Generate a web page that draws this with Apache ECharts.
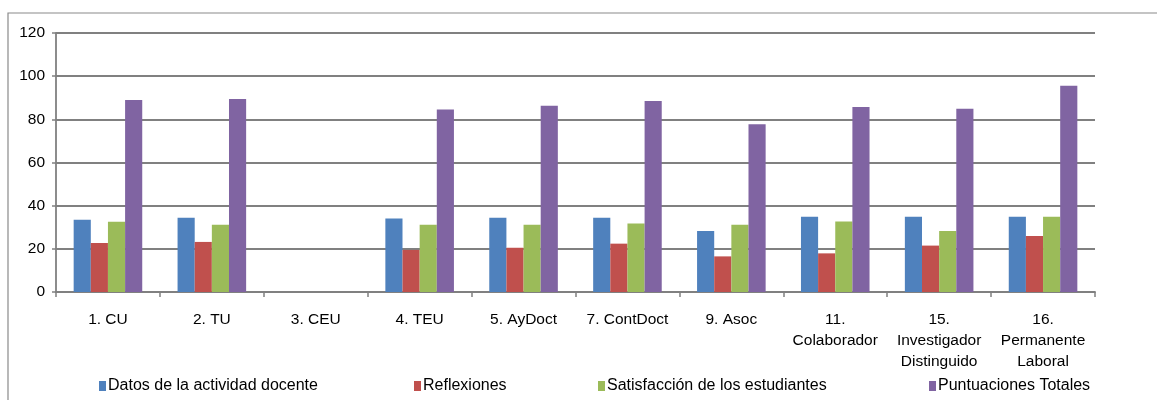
<!DOCTYPE html>
<html><head><meta charset="utf-8">
<script src="https://cdn.jsdelivr.net/npm/echarts@6/dist/echarts.min.js"></script>
<style>html,body{margin:0;padding:0;background:#fff}#c{width:1157px;height:400px}</style>
</head><body><div id="c"></div>
<script>
const categories = ["1. CU","2. TU","3. CEU","4. TEU","5. AyDoct","7. ContDoct","9. Asoc","11.\nColaborador","15.\nInvestigador\nDistinguido","16.\nPermanente\nLaboral"];
const seriesNames = ["Datos de la actividad docente","Reflexiones","Satisfacción de los estudiantes","Puntuaciones Totales"];
const datos = [33.5,34.4,0,34.0,34.4,34.4,28.3,34.9,34.9,34.9];
const reflexiones = [22.7,23.2,0,19.5,20.5,22.4,16.5,17.9,21.5,25.9];
const satisfaccion = [32.6,31.2,0,31.2,31.2,31.7,31.2,32.7,28.3,34.9];
const totales = [89.0,89.4,0,84.5,86.3,88.5,77.7,85.7,84.9,95.6];
const yTicks = [0,20,40,60,80,100,120];

const colors = ["#4F81BD","#C0504D","#9BBB59","#8064A2"];
const font = "'Liberation Sans Narrow','Arial Narrow','Liberation Sans',Arial,sans-serif";
const values = [datos, reflexiones, satisfaccion, totales];
const legendLefts = [99, 414, 598, 929];

const chart = echarts.init(document.getElementById('c'));
chart.setOption({
  animation: false,
  color: colors,
  textStyle: {fontFamily: font},
  graphic: [{type:'rect', shape:{x:8,y:13,width:1170,height:400}, style:{fill:'none', stroke:'#8a8a8a', lineWidth:1.2}, silent:true}],
  legend: seriesNames.map((n,i)=>({
    data:[n], left: legendLefts[i], top: 378, itemWidth: 7, itemHeight: 10, itemGap: 0,
    textStyle:{fontFamily:font, fontSize:16, color:'#000', padding:[0,0,0,-3]}, icon:'rect', padding:0
  })),
  grid: {left:56, right:62, top:33, bottom:108},
  xAxis: {
    type:'category', data: categories,
    axisLine:{lineStyle:{color:'#808080', width:1.8}},
    axisTick:{show:true, length:5, lineStyle:{color:'#808080', width:1.5}},
    axisLabel:{color:'#000', fontSize:15.5, fontFamily:font, margin:17, lineHeight:21, interval:0}
  },
  yAxis: {
    type:'value', min: yTicks[0], max: yTicks[yTicks.length-1], interval: 20,
    axisLine:{show:true, lineStyle:{color:'#808080', width:1.8}},
    axisTick:{show:true, length:4, lineStyle:{color:'#808080', width:1.5}},
    axisLabel:{color:'#000', fontSize:15.5, fontFamily:font, margin:11},
    splitLine:{lineStyle:{color:'#808080', width:1.8}}
  },
  series: seriesNames.map((n,i)=>({
    name:n, type:'bar', data: values[i], barGap:'0%', barCategoryGap:'34%',
    itemStyle:{color:colors[i]}
  }))
});
</script></body></html>
